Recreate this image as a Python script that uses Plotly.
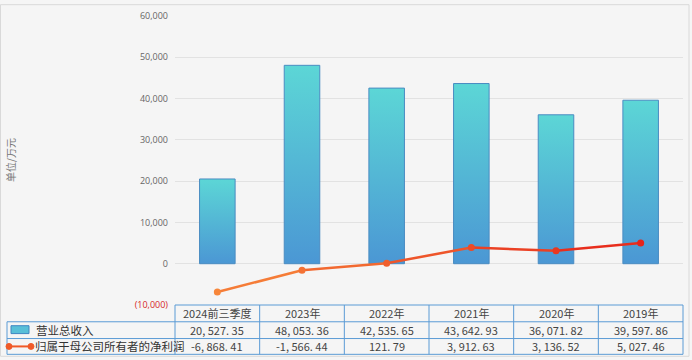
import plotly.graph_objects as go

categories = ["2024前三季度", "2023年", "2022年", "2021年", "2020年", "2019年"]
revenue = [20527.35, 48053.36, 42535.65, 43642.93, 36071.82, 39597.86]
net_profit = [-6868.41, -1566.44, 121.79, 3912.63, 3136.52, 5027.46]
series_names = ["营业总收入", "归属于母公司所有者的净利润"]
y_ticks = [-10000, 0, 10000, 20000, 30000, 40000, 50000, 60000]

W, H = 692, 360
L, R, T, B = 175, 683, 12, 305
PW, PH = R - L, B - T
FONT = "Noto Sans CJK SC, Noto Sans, sans-serif"
BORDER = "#5b9bd5"


def px(x):
    return (x - L) / PW


def py(y):
    return (B - y) / PH


def mix(c1, c2, t):
    a = [int(c1[i:i + 2], 16) for i in (1, 3, 5)]
    b = [int(c2[i:i + 2], 16) for i in (1, 3, 5)]
    return "#" + "".join(f"{round(a[k] + (b[k] - a[k]) * t):02x}" for k in range(3))


fig = go.Figure()
bw = 0.42
for i, v in enumerate(revenue):
    fig.add_trace(go.Scatter(
        x=[i - bw / 2, i - bw / 2, i + bw / 2, i + bw / 2, i - bw / 2],
        y=[0, v, v, 0, 0],
        mode="lines", fill="toself",
        fillcolor="#55b8d5",
        fillgradient=dict(type="vertical", colorscale=[[0, "#4b97d4"], [1, "#5cd6d6"]]),
        line=dict(color="#4a8cc2", width=1),
        hoverinfo="skip", showlegend=False,
    ))

c_start, c_end = "#f7863a", "#e6241a"
n = len(net_profit)
for i in range(n - 1):
    fig.add_trace(go.Scatter(
        x=[i, i + 1], y=[net_profit[i], net_profit[i + 1]], mode="lines",
        line=dict(color=mix(c_start, c_end, (i + 0.5) / (n - 1)), width=2.5),
        hoverinfo="skip", showlegend=False,
    ))
fig.add_trace(go.Scatter(
    x=list(range(n)), y=net_profit, mode="markers",
    marker=dict(size=7, color=[mix(c_start, c_end, i / (n - 1)) for i in range(n)]),
    showlegend=False, name=series_names[1],
))

shapes = []
# outer frame
shapes.append(dict(type="rect", xref="paper", yref="paper", x0=px(0.5), x1=px(689), y0=py(0.5), y1=py(357),
                   line=dict(color="#d9d9d9", width=1), fillcolor="rgba(0,0,0,0)", layer="below"))
col_w = PW / len(categories)
rows = [305, 322, 339, 355]
# horizontal lines
shapes.append(dict(type="line", xref="paper", yref="paper", x0=px(L), x1=px(R), y0=py(rows[0]), y1=py(rows[0]),
                   line=dict(color=BORDER, width=1)))
for yy in rows[1:]:
    shapes.append(dict(type="line", xref="paper", yref="paper", x0=px(7), x1=px(R), y0=py(yy), y1=py(yy),
                       line=dict(color=BORDER, width=1)))
# vertical lines
shapes.append(dict(type="line", xref="paper", yref="paper", x0=px(7), x1=px(7), y0=py(rows[1]), y1=py(rows[3]),
                   line=dict(color=BORDER, width=1)))
for k in range(len(categories) + 1):
    xx = L + k * col_w
    shapes.append(dict(type="line", xref="paper", yref="paper", x0=px(xx), x1=px(xx), y0=py(rows[0]), y1=py(rows[3]),
                       line=dict(color=BORDER, width=1)))
# legend symbols
shapes.append(dict(type="rect", xref="paper", yref="paper", x0=px(11), x1=px(29), y0=py(326), y1=py(334),
                   line=dict(color="#3f86c0", width=1), fillcolor="#58bfd8"))
shapes.append(dict(type="line", xref="paper", yref="paper", x0=px(9), x1=px(31), y0=py(347), y1=py(347),
                   line=dict(color="#f05a28", width=2)))
for xx in (9, 31):
    shapes.append(dict(type="circle", xref="paper", yref="paper", x0=px(xx - 3), x1=px(xx + 3),
                       y0=py(350), y1=py(344), line=dict(color="#f05a28", width=1), fillcolor="#f05a28"))


def fmt(v):
    s = f"{v:,.2f}"
    return s.replace(",", ", ").replace(".", ". ")


annotations = []
row_centers = [313.5, 330.5, 347]
for k, cat in enumerate(categories):
    cx = L + (k + 0.5) * col_w
    for j, txt in enumerate([cat, fmt(revenue[k]), fmt(net_profit[k])]):
        annotations.append(dict(xref="paper", yref="paper", x=px(cx), y=py(row_centers[j]), text=txt,
                                showarrow=False, xanchor="center", yanchor="middle",
                                font=dict(family=FONT, size=11, color="#444")))
annotations.append(dict(xref="paper", yref="paper", x=px(34), y=py(330.5), text=series_names[0], showarrow=False,
                        xanchor="left", yanchor="middle", font=dict(family=FONT, size=11.5, color="#333")))
annotations.append(dict(xref="paper", yref="paper", x=px(33), y=py(347), text=series_names[1], showarrow=False,
                        xanchor="left", yanchor="middle", font=dict(family=FONT, size=11.5, color="#333")))
annotations.append(dict(xref="paper", yref="paper", x=px(10), y=py(158), text="单位/万元", showarrow=False,
                        textangle=-90, xanchor="center", yanchor="middle",
                        font=dict(family=FONT, size=10, color="#777")))

ticktext = []
for t in y_ticks:
    if t < 0:
        ticktext.append(f"<span style='color:#d62728'>({abs(t):,})</span>")
    else:
        ticktext.append(f"{t:,}")

fig.update_layout(
    width=W, height=H,
    margin=dict(l=L, r=W - R, t=T, b=H - B, pad=0),
    paper_bgcolor="#f5f5f5", plot_bgcolor="#f5f5f5",
    xaxis=dict(range=[-0.5, len(categories) - 0.5], showticklabels=False, showgrid=False,
               zeroline=False, showline=False, fixedrange=True),
    yaxis=dict(range=[-10000, 60000], tickvals=y_ticks, ticktext=ticktext, showgrid=True,
               gridcolor="#e2e2e2", gridwidth=1, zeroline=True, zerolinecolor="#e2e2e2", zerolinewidth=1,
               ticks="", ticklabelstandoff=6,
               tickfont=dict(family="Open Sans, Noto Sans, sans-serif", size=9, color="#666"), showline=False),
    shapes=shapes, annotations=annotations, showlegend=False,
)
fig.write_html("out.html", config={"displayModeBar": False},
               post_script="document.body.style.margin='0';document.body.style.padding='0';")
